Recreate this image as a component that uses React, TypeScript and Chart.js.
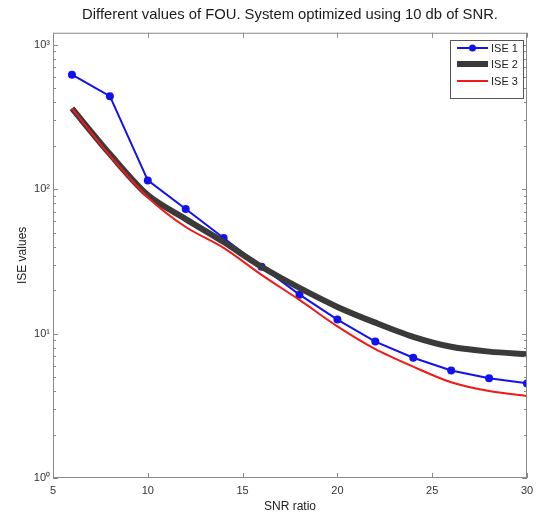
import React, { useEffect, useRef } from "react";
import { Chart, registerables } from "chart.js";

Chart.register(...registerables);

const snr = [6, 8, 10, 12, 14, 16, 18, 20, 22, 24, 26, 28, 30];
const ise1 = [620, 440, 115, 72.8, 45.9, 29, 18.6, 12.5, 8.8, 6.8, 5.55, 4.9, 4.52];
const ise2 = [362, 175, 91, 62, 43, 29, 20.7, 15.3, 11.9, 9.5, 8.1, 7.5, 7.2];
const ise3 = [362, 171, 88, 54.7, 39.2, 25.5, 17.1, 11.2, 7.8, 5.9, 4.6, 4.0, 3.7];
const seriesLabels = ["ISE 1", "ISE 2", "ISE 3"];
const xTicks = [5, 10, 15, 20, 25, 30];
const yTicks = [1, 10, 100, 1000];
const yTickLabels = ["10⁰", "10¹", "10²", "10³"];
const yMax = 1210;

const FONT = "'Liberation Sans', Arial, sans-serif";

const boxPlugin = {
  id: "matlabBox",
  afterDatasetsDraw(chart: any) {
    const { ctx, chartArea: a, scales } = chart;
    const xs = scales.x;
    const ys = scales.y;
    ctx.save();
    ctx.strokeStyle = "#8a8a8a";
    ctx.lineWidth = 1;
    ctx.strokeRect(a.left + 0.5, a.top + 0.5, a.right - a.left - 1, a.bottom - a.top - 1);
    ctx.beginPath();
    xTicks.forEach((v) => {
      const x = Math.round(xs.getPixelForValue(v)) + 0.5;
      ctx.moveTo(x, a.bottom);
      ctx.lineTo(x, a.bottom - 5);
      ctx.moveTo(x, a.top);
      ctx.lineTo(x, a.top + 5);
    });
    yTicks.forEach((v) => {
      const y = Math.round(ys.getPixelForValue(v)) + 0.5;
      ctx.moveTo(a.left, y);
      ctx.lineTo(a.left + 5, y);
      ctx.moveTo(a.right, y);
      ctx.lineTo(a.right - 5, y);
    });
    for (let d = 1; d < 1000; d *= 10) {
      for (let m = 2; m <= 9; m++) {
        const y = Math.round(ys.getPixelForValue(d * m)) + 0.5;
        ctx.moveTo(a.left, y);
        ctx.lineTo(a.left + 3, y);
        ctx.moveTo(a.right, y);
        ctx.lineTo(a.right - 3, y);
      }
    }
    ctx.stroke();

    // legend
    const bx = 450, by = 40, bw = 73, bh = 58;
    ctx.fillStyle = "#ffffff";
    ctx.fillRect(bx, by, bw, bh);
    ctx.strokeStyle = "#555";
    ctx.strokeRect(bx + 0.5, by + 0.5, bw, bh);
    const rows = [48, 64, 81];
    chart.data.datasets.forEach((ds: any, i: number) => {
      const y = rows[i];
      ctx.strokeStyle = ds.borderColor;
      ctx.lineWidth = ds.borderWidth;
      ctx.beginPath();
      ctx.moveTo(457, y);
      ctx.lineTo(488, y);
      ctx.stroke();
      if (ds.pointRadius > 0) {
        ctx.fillStyle = ds.borderColor;
        ctx.beginPath();
        ctx.arc(472.5, y, 3.5, 0, Math.PI * 2);
        ctx.fill();
      }
      ctx.fillStyle = "#222";
      ctx.font = `11px ${FONT}`;
      ctx.textBaseline = "middle";
      ctx.textAlign = "left";
      ctx.fillText(seriesLabels[i], 491, y + 0.5);
    });
    ctx.restore();
  },
};

export default function App() {
  const ref = useRef<HTMLCanvasElement>(null);
  useEffect(() => {
    if (!ref.current) return;
    const chart = new Chart(ref.current, {
      type: "line",
      data: {
        labels: snr,
        datasets: [
          {
            label: seriesLabels[0],
            data: snr.map((x, i) => ({ x, y: ise1[i] })),
            borderColor: "#1212f0",
            backgroundColor: "#1212f0",
            borderWidth: 2,
            pointRadius: 4,
            pointHoverRadius: 4,
            pointBackgroundColor: "#1212f0",
            pointBorderWidth: 0,
            order: 3,
          },
          {
            label: seriesLabels[1],
            data: snr.map((x, i) => ({ x, y: ise2[i] })),
            borderColor: "#3a3a3a",
            backgroundColor: "#3a3a3a",
            borderWidth: 6,
            pointRadius: 0,
            tension: 0.3,
            order: 2,
          },
          {
            label: seriesLabels[2],
            data: snr.map((x, i) => ({ x, y: ise3[i] })),
            borderColor: "#f01818",
            backgroundColor: "#f01818",
            borderWidth: 2,
            pointRadius: 0,
            tension: 0.3,
            order: 1,
          },
        ],
      },
      options: {
        animation: false,
        responsive: false,
        devicePixelRatio: 1,
        layout: { padding: { left: 0, right: 9, top: 0, bottom: 0 } },
        plugins: {
          legend: { display: false },
          tooltip: { enabled: false },
          title: {
            display: true,
            fullSize: false,
            text: "Different values of FOU. System optimized using 10 db of SNR.",
            color: "#1a1a1a",
            font: { family: FONT, size: 14.8, weight: "normal" },
            padding: { top: 6, bottom: 9 },
          },
        },
        scales: {
          x: {
            type: "linear",
            min: 5,
            max: 30,
            grid: { display: false, drawTicks: false },
            border: { display: false },
            afterBuildTicks: (s: any) => {
              s.ticks = xTicks.map((v) => ({ value: v }));
            },
            afterFit: (s: any) => {
              s.height = 39;
              s.paddingLeft = 0;
              s.paddingRight = 0;
            },
            ticks: {
              color: "#333",
              font: { family: FONT, size: 11 },
              padding: 6,
              maxRotation: 0,
            },
            title: {
              display: true,
              text: "SNR ratio",
              color: "#222",
              font: { family: FONT, size: 12 },
              padding: { top: 0, bottom: 3 },
            },
          },
          y: {
            type: "logarithmic",
            min: 1,
            max: yMax,
            grid: { display: false, drawTicks: false },
            border: { display: false },
            afterBuildTicks: (s: any) => {
              s.ticks = yTicks.map((v) => ({ value: v }));
            },
            afterFit: (s: any) => {
              s.width = 53;
            },
            ticks: {
              color: "#333",
              font: { family: FONT, size: 11 },
              padding: 3,
              callback: (v: any) => {
                const i = yTicks.indexOf(Number(v));
                return i >= 0 ? yTickLabels[i] : "";
              },
            },
            title: {
              display: true,
              text: "ISE values",
              color: "#222",
              font: { family: FONT, size: 12 },
              padding: { top: 15, bottom: 0 },
            },
          },
        },
      },
      plugins: [boxPlugin],
    });
    return () => chart.destroy();
  }, []);
  return (
    <div style={{ position: "fixed", left: 0, top: 0, width: 536, height: 517, background: "#fff" }}>
      <canvas ref={ref} width={536} height={517} style={{ display: "block" }} />
    </div>
  );
}
